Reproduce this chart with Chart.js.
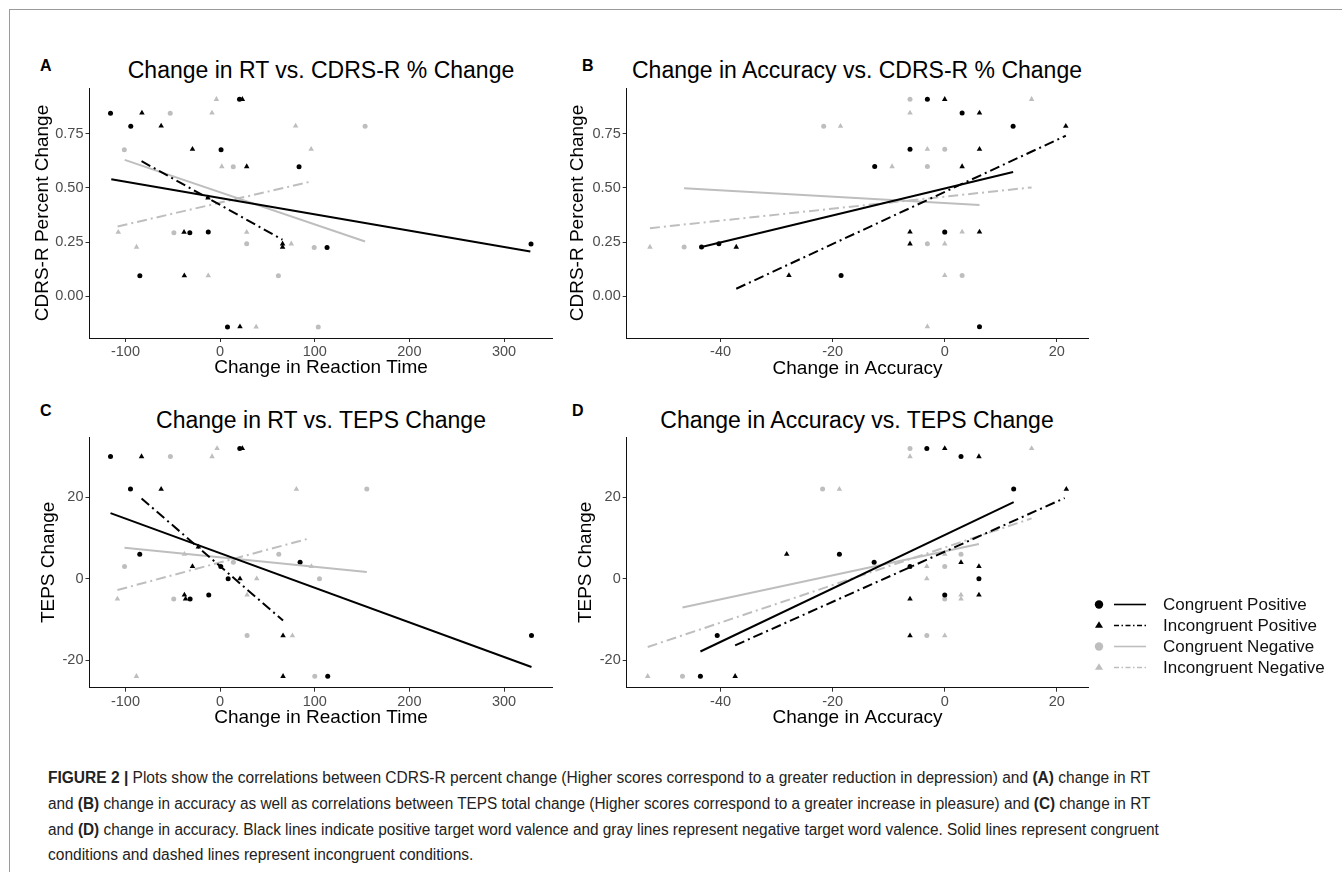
<!DOCTYPE html>
<html lang="en">
<head>
<meta charset="UTF-8">
<title>Figure 2</title>
<script src="https://cdn.jsdelivr.net/npm/chart.js"></script>
<style>
  body { margin: 0; background: #fff; font-family: 'Liberation Sans', Arial, sans-serif; }
  #page { position: relative; width: 1342px; height: 872px; overflow: hidden; }
  #frame { position: absolute; left: 9px; top: 9px; right: -5px; bottom: -5px;
           border-top: 1px solid #9a9a9a; border-left: 1px solid #9a9a9a; }
  canvas { position: absolute; }
  .plab { position: absolute; font-weight: bold; font-size: 16px; line-height: 1; }
  .ttl { position: absolute; font-size: 23px; line-height: 1; white-space: nowrap; transform: translateX(-50%); }
  .leg { position: absolute; left: 1092px; height: 21px; line-height: 21px; font-size: 17px; white-space: nowrap; color: #111; }
  .leg svg { vertical-align: top; margin-right: 11px; }
  .cap { position: absolute; left: 48px; font-size: 16px; line-height: 1; white-space: nowrap; color: #222;
         transform-origin: 0 0; }
</style>
</head>
<body>
<div id="page">
  <div id="frame"></div>

  <div class="plab" style="left:40px;top:58px">A</div>
  <div class="plab" style="left:582px;top:58px">B</div>
  <div class="plab" style="left:40px;top:403px">C</div>
  <div class="plab" style="left:572px;top:403px">D</div>

  <div class="ttl" style="left:321px;top:59px">Change in RT vs. CDRS-R % Change</div>
  <div class="ttl" style="left:857px;top:59px">Change in Accuracy vs. CDRS-R % Change</div>
  <div class="ttl" style="left:321px;top:409px">Change in RT vs. TEPS Change</div>
  <div class="ttl" style="left:857px;top:409px">Change in Accuracy vs. TEPS Change</div>

  <canvas id="chartA" width="548" height="342" style="left:10px;top:48px"></canvas>
  <canvas id="chartB" width="530" height="342" style="left:565px;top:48px"></canvas>
  <canvas id="chartC" width="548" height="342" style="left:10px;top:397px"></canvas>
  <canvas id="chartD" width="530" height="342" style="left:565px;top:397px"></canvas>

  <div id="legend"></div>

  <div class="cap" style="top:770px"><b>FIGURE 2 |</b> Plots show the correlations between CDRS-R percent change (Higher scores correspond to a greater reduction in depression) and <b>(A)</b> change in RT</div>
  <div class="cap" style="top:796px">and <b>(B)</b> change in accuracy as well as correlations between TEPS total change (Higher scores correspond to a greater increase in pleasure) and <b>(C)</b> change in RT</div>
  <div class="cap" style="top:822px">and <b>(D)</b> change in accuracy. Black lines indicate positive target word valence and gray lines represent negative target word valence. Solid lines represent congruent</div>
  <div class="cap" style="top:847px">conditions and dashed lines represent incongruent conditions.</div>
</div>

<script>
// groups, in legend order
const groups = ['Congruent Positive', 'Incongruent Positive', 'Congruent Negative', 'Incongruent Negative'];

// axis ranges and ticks
const rtRange = [-138, 351.2];
const accRange = [-56.75, 25.65];
const cdrsRange = [-0.192, 0.96];
const tepsRange = [-26.8, 34.8];
const rtTicks = [-100, 0, 100, 200, 300];
const accTicks = [-40, -20, 0, 20];
const cdrsTicks = [0, 0.25, 0.5, 0.75];
const tepsTicks = [-20, 0, 20];

// A: change in RT vs CDRS-R percent change
const rtCdrsCP = [[-115.8,0.844],[-94.4,0.784],[1,0.676],[20.5,0.908],[83.4,0.597],[-32,0.293],[-12.5,0.296],[113,0.225],[-84.8,0.095],[7.8,-0.141],[328.5,0.241]];
const rtCdrsIP = [[-82.6,0.845],[-62.3,0.785],[-29.2,0.678],[23.5,0.908],[28.1,0.598],[-38.1,0.296],[66,0.242],[66,0.227],[-37.8,0.095],[21,-0.14],[-12.8,0.454]];
const rtCdrsCN = [[-52.7,0.844],[153.2,0.784],[-101.2,0.676],[13.9,0.597],[-48.8,0.293],[28.1,0.242],[99.4,0.225],[61.6,0.095],[103.7,-0.141]];
const rtCdrsIN = [[-3.9,0.908],[-8.6,0.845],[79.8,0.785],[96.2,0.678],[1.8,0.598],[-107.6,0.296],[28.1,0.296],[-88.3,0.227],[75.2,0.242],[-12.5,0.095],[38.1,-0.141]];
const rtCdrsFitCP = [[-115,0.54],[327.8,0.207]];
const rtCdrsFitIP = [[-83,0.623],[65.9,0.261]];
const rtCdrsFitCN = [[-100.8,0.629],[153.2,0.253]];
const rtCdrsFitIN = [[-108.3,0.322],[96.2,0.529]];

// B: change in accuracy vs CDRS-R percent change
const accCdrsCP = [[-3.1,0.908],[3.1,0.845],[12.2,0.784],[-6.2,0.678],[-12.5,0.598],[0,0.297],[-43.4,0.227],[-40.3,0.242],[-18.5,0.096],[6.2,-0.14]];
const accCdrsIP = [[0,0.908],[6.2,0.845],[21.6,0.784],[6.2,0.678],[3.1,0.598],[-6.2,0.297],[6.2,0.297],[-6.2,0.242],[-37.2,0.227],[-27.8,0.096]];
const accCdrsCN = [[-6.2,0.908],[-21.6,0.784],[0,0.678],[-3.1,0.598],[0,0.294],[-3.1,0.242],[-46.5,0.227],[3.1,0.096]];
const accCdrsIN = [[15.5,0.908],[-6.2,0.845],[-18.6,0.784],[-3.1,0.678],[-9.4,0.598],[3.1,0.297],[0,0.242],[-52.6,0.227],[0,0.096],[-3.1,-0.14]];
const accCdrsFitCP = [[-43.4,0.227],[12.2,0.573]];
const accCdrsFitIP = [[-37.2,0.035],[21.6,0.74]];
const accCdrsFitCN = [[-46.5,0.498],[6.2,0.421]];
const accCdrsFitIN = [[-52.6,0.314],[15.5,0.502]];

// C: change in RT vs TEPS change
const rtTepsCP = [[-115.8,30],[-94.7,22],[-84.9,6],[84.5,4],[0.7,3],[8.5,0],[-12,-4],[-31.7,-5],[20.8,32],[113.7,-24],[329,-14]];
const rtTepsIP = [[-83,30],[-62.3,22],[-29.2,3],[-37.7,-4],[-36.5,-5],[21,0],[66.5,-14],[66.5,-24],[23.5,32],[-23,7.8]];
const rtTepsCN = [[-52.5,30],[155,22],[-101,3],[62,6],[14,4],[-49,-5],[28.5,-14],[100,-24],[105,0]];
const rtTepsIN = [[-3.2,32],[-8.5,30],[80.6,22],[-37.7,6],[96.5,3],[38.7,0],[28.5,-4],[-108.5,-5],[76.4,-14],[-88.4,-24]];
const rtTepsFitCP = [[-115.8,16.1],[329,-21.7]];
const rtTepsFitIP = [[-83,19.7],[66.5,-10.3]];
const rtTepsFitCN = [[-101,7.6],[155,1.6]];
const rtTepsFitIN = [[-108.5,-2.8],[93,9.8]];

// D: change in accuracy vs TEPS change
const accTepsCP = [[-3.2,32],[2.9,30],[12.3,22],[-18.8,6],[-12.6,4],[-6.2,3],[6.1,0],[0,-4],[-40.6,-14],[-43.6,-24]];
const accTepsIP = [[0,32],[6.1,30],[21.7,22],[-28.2,6],[2.9,4],[6.1,3],[-6.2,-5],[6.1,-4],[-6.2,-14],[-37.4,-24]];
const accTepsCN = [[-6.2,32],[-21.8,22],[2.9,6],[0,3],[0,-5],[-3.2,-14],[-46.8,-24]];
const accTepsIN = [[15.5,32],[-6.2,30],[-18.8,22],[-3.2,3],[-3.2,0],[2.9,-4],[2.9,-5],[0,-14],[-53,-24],[0,6]];
const accTepsFitCP = [[-43.6,-17.9],[12.3,18.8]];
const accTepsFitIP = [[-37.4,-16.4],[21.4,19.8]];
const accTepsFitCN = [[-46.8,-7.1],[6.1,8.5]];
const accTepsFitIN = [[-53,-16.8],[15.5,14.8]];

const BLACK = '#000000';
const GREY = '#bebebe';
const DOTDASH = [10, 4, 2, 4];
const styles = [
  { color: BLACK, shape: 'circle', r: 2.5, dash: [] },
  { color: BLACK, shape: 'triangle', r: 3.2, dash: DOTDASH },
  { color: GREY, shape: 'circle', r: 2.5, dash: [] },
  { color: GREY, shape: 'triangle', r: 3.2, dash: DOTDASH }
];

Chart.defaults.font.family = "'Liberation Sans', Arial, sans-serif";
Chart.defaults.animation = false;

function toXY(arr) {
  return arr.map(p => ({ x: p[0], y: p[1] }));
}

function makePanel(id, pts, fits, xr, yr, xt, yt, yFmt, xTitle, yTitle, box) {
  const datasets = [];
  fits.forEach((f, i) => {
    const s = styles[i];
    datasets.push({
      label: groups[i] + ' fit',
      data: toXY(f),
      showLine: true,
      borderColor: s.color,
      borderWidth: 2,
      borderDash: s.dash,
      pointRadius: 0,
      order: s.color === BLACK ? 1 : 2
    });
  });
  pts.forEach((p, i) => {
    const s = styles[i];
    datasets.push({
      label: groups[i],
      data: toXY(p),
      pointStyle: s.shape,
      pointRadius: s.r,
      pointBorderWidth: 0,
      pointBackgroundColor: s.color,
      borderColor: s.color,
      order: s.color === BLACK ? 3 : 4
    });
  });

  const tickFont = { size: 14.5 };
  const titleFont = { size: 19 };

  new Chart(document.getElementById(id), {
    type: 'scatter',
    data: { datasets },
    options: {
      responsive: false,
      layout: { padding: { left: 0, right: box.padR, top: box.padT, bottom: 0 } },
      plugins: { legend: { display: false }, tooltip: { enabled: false }, title: { display: false } },
      scales: {
        x: {
          type: 'linear', min: xr[0], max: xr[1],
          afterBuildTicks: s => { s.ticks = xt.map(v => ({ value: v })); },
          afterFit: s => { s.height = box.xH; },
          grid: { display: true, drawOnChartArea: false, drawTicks: true, tickLength: 4, color: '#333' },
          border: { display: true, color: '#111', width: 1 },
          ticks: { color: '#4d4d4d', font: tickFont, padding: 1.5, maxRotation: 0, autoSkip: false,
                   callback: v => String(v) },
          title: { display: true, text: xTitle, color: '#000', font: titleFont, padding: { top: 0, bottom: box.xTitlePad } }
        },
        y: {
          type: 'linear', min: yr[0], max: yr[1],
          afterBuildTicks: s => { s.ticks = yt.map(v => ({ value: v })); },
          afterFit: s => { s.width = box.yW; },
          grid: { display: true, drawOnChartArea: false, drawTicks: true, tickLength: 4, color: '#333' },
          border: { display: true, color: '#111', width: 1 },
          ticks: { color: '#4d4d4d', font: tickFont, padding: 2, autoSkip: false, callback: yFmt },
          title: { display: true, text: yTitle, color: '#000', font: titleFont, padding: { top: box.yTitlePad, bottom: 0 } }
        }
      }
    }
  });
}

const fmt2 = v => v.toFixed(2);
const fmt0 = v => String(v);

makePanel('chartA', [rtCdrsCP, rtCdrsIP, rtCdrsCN, rtCdrsIN],
  [rtCdrsFitCP, rtCdrsFitIP, rtCdrsFitCN, rtCdrsFitIN],
  rtRange, cdrsRange, rtTicks, cdrsTicks, fmt2,
  'Change in Reaction Time', 'CDRS-R Percent Change',
  { yW: 79.5, padR: 5.5, padT: 40, xH: 52, yTitlePad: 21.6, xTitlePad: 10.6 });

makePanel('chartB', [accCdrsCP, accCdrsIP, accCdrsCN, accCdrsIN],
  [accCdrsFitCP, accCdrsFitIP, accCdrsFitCN, accCdrsFitIN],
  accRange, cdrsRange, accTicks, cdrsTicks, fmt2,
  'Change in Accuracy', 'CDRS-R Percent Change',
  { yW: 61.7, padR: 6.5, padT: 40, xH: 52, yTitlePad: 1.1, xTitlePad: 9.6 });

makePanel('chartC', [rtTepsCP, rtTepsIP, rtTepsCN, rtTepsIN],
  [rtTepsFitCP, rtTepsFitIP, rtTepsFitCN, rtTepsFitIN],
  rtRange, tepsRange, rtTicks, tepsTicks, fmt0,
  'Change in Reaction Time', 'TEPS Change',
  { yW: 79.5, padR: 5.5, padT: 40, xH: 51.3, yTitlePad: 27.6, xTitlePad: 9.6 });

makePanel('chartD', [accTepsCP, accTepsIP, accTepsCN, accTepsIN],
  [accTepsFitCP, accTepsFitIP, accTepsFitCN, accTepsFitIN],
  accRange, tepsRange, accTicks, tepsTicks, fmt0,
  'Change in Accuracy', 'TEPS Change',
  { yW: 61.7, padR: 6.5, padT: 40, xH: 51.3, yTitlePad: 9.4, xTitlePad: 9.6 });

// legend: symbol + line sample + label
const legend = document.getElementById('legend');
groups.forEach((g, i) => {
  const s = styles[i];
  const sym = s.shape === 'circle'
    ? `<circle cx="7" cy="10.5" r="4.2" fill="${s.color}"/>`
    : `<polygon points="7,6.3 11,12.8 3,12.8" fill="${s.color}"/>`;
  const dash = s.dash.length ? 'stroke-dasharray="5 2.5 1.5 2.5"' : '';
  const row = document.createElement('div');
  row.className = 'leg';
  row.style.top = (594 + i * 21) + 'px';
  row.innerHTML = `<svg width="60" height="21">${sym}<line x1="22" y1="10.5" x2="54" y2="10.5" stroke="${s.color}" stroke-width="1.6" ${dash}/></svg>${g}`;
  legend.appendChild(row);
});

// caption lines are squeezed to the printed column width
const capRight = [1150, 1150, 1159, null];
const caps = document.querySelectorAll('.cap');
let k0 = 1;
caps.forEach((c, i) => {
  const w = c.scrollWidth;
  const k = capRight[i] ? (capRight[i] - 48) / w : k0;
  if (i === 0) k0 = k;
  c.style.transform = `scaleX(${k})`;
});
</script>
</body>
</html>
